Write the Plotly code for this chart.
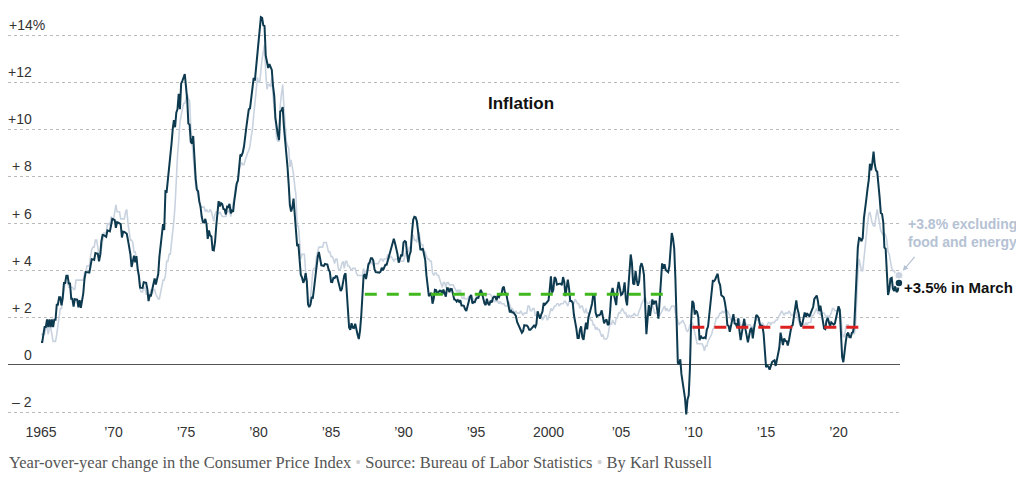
import pandas as pd
import plotly.graph_objects as go

# Verbraucherpreisindex, Veränderung zum Vorjahresmonat in %, Jan 1965 - Mär 2024
cpi_all = [
    0.97, 0.97, 1.29, 1.61, 1.61, 1.93, 1.61, 1.93, 1.61, 1.93, 1.61, 1.92,  # 1965
    1.92, 2.56, 2.56, 2.87, 2.87, 2.53, 2.85, 3.48, 3.48, 3.79, 3.79, 3.46,  # 1966
    3.46, 2.81, 2.81, 2.48, 2.79, 2.78, 2.77, 2.45, 2.75, 2.43, 2.74, 3.04,  # 1967
    3.65, 3.95, 3.94, 3.93, 3.92, 4.20, 4.49, 4.48, 4.46, 4.75, 4.73, 4.72,  # 1968
    4.40, 4.68, 5.25, 5.52, 5.51, 5.48, 5.44, 5.71, 5.70, 5.67, 5.93, 6.20,  # 1969
    6.18, 6.15, 5.82, 6.06, 6.04, 6.01, 5.98, 5.41, 5.66, 5.65, 5.60, 5.57,  # 1970
    5.29, 5.00, 4.71, 4.16, 4.40, 4.64, 4.36, 4.62, 4.08, 3.80, 3.28, 3.27,  # 1971
    3.27, 3.51, 3.50, 3.49, 3.23, 2.71, 2.95, 2.94, 3.19, 3.42, 3.67, 3.41,  # 1972
    3.65, 3.87, 4.59, 5.06, 5.53, 5.98, 5.73, 7.38, 7.36, 7.80, 8.25, 8.71,  # 1973
    9.39, 10.02, 10.39, 10.09, 10.71, 10.86, 11.51, 10.86, 11.95, 12.06, 12.20, 12.34,  # 1974
    11.80, 11.23, 10.25, 10.21, 9.47, 9.39, 9.72, 8.60, 7.91, 7.44, 7.38, 6.94,  # 1975
    6.72, 6.29, 6.07, 6.05, 6.20, 5.97, 5.35, 5.71, 5.49, 5.46, 4.88, 4.86,  # 1976
    5.22, 5.91, 6.44, 6.95, 6.73, 6.87, 6.83, 6.62, 6.60, 6.39, 6.72, 6.70,  # 1977
    6.84, 6.43, 6.55, 6.50, 6.97, 7.41, 7.70, 7.84, 8.31, 8.93, 8.89, 9.02,  # 1978
    9.28, 9.86, 10.09, 10.49, 10.85, 10.89, 11.26, 11.82, 12.18, 12.07, 12.61, 13.29,  # 1979
    13.91, 14.18, 14.76, 14.73, 14.41, 14.38, 13.13, 12.87, 12.60, 12.77, 12.65, 12.52,  # 1980
    11.83, 11.41, 10.49, 10.00, 9.78, 9.55, 10.76, 10.80, 10.95, 10.14, 9.59, 8.92,  # 1981
    8.39, 7.62, 6.78, 6.51, 6.68, 7.06, 6.44, 5.85, 5.04, 5.14, 4.59, 3.83,  # 1982
    3.71, 3.49, 3.60, 3.90, 3.55, 2.58, 2.46, 2.56, 2.86, 2.85, 3.27, 3.79,  # 1983
    4.19, 4.60, 4.80, 4.56, 4.23, 4.22, 4.20, 4.29, 4.27, 4.26, 4.05, 3.95,  # 1984
    3.53, 3.52, 3.70, 3.69, 3.77, 3.76, 3.55, 3.35, 3.14, 3.23, 3.51, 3.80,  # 1985
    3.89, 3.11, 2.26, 1.59, 1.49, 1.77, 1.58, 1.57, 1.75, 1.47, 1.28, 1.10,  # 1986
    1.46, 2.10, 3.03, 3.78, 3.86, 3.65, 3.93, 4.28, 4.36, 4.53, 4.53, 4.43,  # 1987
    4.05, 3.94, 3.93, 3.93, 3.92, 3.96, 4.13, 4.02, 4.17, 4.25, 4.25, 4.42,  # 1988
    4.67, 4.83, 4.98, 5.11, 5.36, 5.17, 4.98, 4.71, 4.34, 4.49, 4.66, 4.65,  # 1989
    5.20, 5.26, 5.23, 4.71, 4.36, 4.67, 4.82, 5.62, 6.16, 6.29, 6.27, 6.11,  # 1990
    5.65, 5.31, 4.90, 4.89, 4.95, 4.70, 4.45, 3.80, 3.39, 2.92, 2.99, 3.06,  # 1991
    2.60, 2.82, 3.19, 3.18, 3.02, 3.09, 3.16, 3.15, 2.99, 3.20, 3.05, 2.90,  # 1992
    3.26, 3.25, 3.09, 3.23, 3.22, 3.00, 2.78, 2.77, 2.69, 2.75, 2.68, 2.75,  # 1993
    2.52, 2.52, 2.51, 2.36, 2.29, 2.49, 2.77, 2.90, 2.96, 2.61, 2.67, 2.67,  # 1994
    2.80, 2.86, 2.85, 3.05, 3.19, 3.04, 2.76, 2.62, 2.54, 2.81, 2.61, 2.54,  # 1995
    2.73, 2.65, 2.84, 2.90, 2.89, 2.75, 2.95, 2.88, 3.00, 2.99, 3.26, 3.32,  # 1996
    3.04, 3.03, 2.76, 2.50, 2.23, 2.30, 2.23, 2.23, 2.15, 2.08, 1.83, 1.70,  # 1997
    1.57, 1.44, 1.37, 1.44, 1.69, 1.68, 1.68, 1.62, 1.49, 1.49, 1.55, 1.61,  # 1998
    1.67, 1.61, 1.73, 2.28, 2.09, 1.96, 2.14, 2.26, 2.63, 2.56, 2.62, 2.68,  # 1999
    2.74, 3.22, 3.76, 3.07, 3.19, 3.73, 3.66, 3.41, 3.45, 3.45, 3.45, 3.39,  # 2000
    3.73, 3.53, 2.92, 3.27, 3.62, 3.25, 2.72, 2.72, 2.65, 2.13, 1.90, 1.55,  # 2001
    1.14, 1.14, 1.48, 1.64, 1.18, 1.07, 1.46, 1.80, 1.51, 2.03, 2.20, 2.38,  # 2002
    2.60, 2.98, 3.02, 2.22, 2.06, 2.11, 2.11, 2.16, 2.32, 2.04, 1.77, 1.88,  # 2003
    1.93, 1.69, 1.74, 2.29, 3.05, 3.27, 2.99, 2.65, 2.54, 3.19, 3.52, 3.26,  # 2004
    2.97, 3.01, 3.15, 3.51, 2.80, 2.53, 3.17, 3.64, 4.69, 4.35, 3.46, 3.42,  # 2005
    3.99, 3.60, 3.36, 3.55, 4.17, 4.32, 4.15, 3.82, 2.06, 1.31, 1.97, 2.54,  # 2006
    2.08, 2.42, 2.78, 2.57, 2.69, 2.69, 2.36, 1.97, 2.76, 3.54, 4.31, 4.08,  # 2007
    4.28, 4.03, 3.98, 3.94, 4.18, 5.02, 5.60, 5.37, 4.94, 3.66, 1.07, 0.09,  # 2008
    0.03, 0.24, -0.38, -0.74, -1.28, -1.43, -2.10, -1.48, -1.29, -0.18, 1.84, 2.72,  # 2009
    2.63, 2.14, 2.31, 2.24, 2.02, 1.05, 1.24, 1.15, 1.14, 1.17, 1.14, 1.50,  # 2010
    1.63, 2.11, 2.68, 3.16, 3.57, 3.56, 3.63, 3.77, 3.87, 3.53, 3.39, 2.96,  # 2011
    2.93, 2.87, 2.65, 2.30, 1.70, 1.66, 1.41, 1.69, 1.99, 2.16, 1.76, 1.74,  # 2012
    1.59, 1.98, 1.47, 1.06, 1.36, 1.75, 1.96, 1.52, 1.18, 0.96, 1.24, 1.50,  # 2013
    1.58, 1.13, 1.51, 1.95, 2.13, 2.07, 1.99, 1.70, 1.66, 1.66, 1.32, 0.76,  # 2014
    -0.09, -0.03, -0.07, -0.20, -0.04, 0.12, 0.17, 0.20, -0.04, 0.17, 0.50, 0.73,  # 2015
    1.37, 1.02, 0.85, 1.13, 1.02, 1.01, 0.83, 1.06, 1.46, 1.64, 1.69, 2.07,  # 2016
    2.50, 2.74, 2.38, 2.20, 1.87, 1.63, 1.73, 1.94, 2.23, 2.04, 2.20, 2.11,  # 2017
    2.07, 2.21, 2.36, 2.46, 2.80, 2.87, 2.95, 2.70, 2.28, 2.52, 2.18, 1.91,  # 2018
    1.55, 1.52, 1.86, 2.00, 1.79, 1.65, 1.81, 1.75, 1.71, 1.76, 2.05, 2.29,  # 2019
    2.49, 2.33, 1.54, 0.33, 0.12, 0.65, 0.99, 1.31, 1.37, 1.18, 1.17, 1.36,  # 2020
    1.40, 1.68, 2.62, 4.16, 4.99, 5.39, 5.37, 5.25, 5.39, 6.22, 6.81, 7.04,  # 2021
    7.48, 7.87, 8.54, 8.26, 8.58, 9.06, 8.52, 8.26, 8.20, 7.75, 7.11, 6.45,  # 2022
    6.41, 6.04, 4.98, 4.93, 4.05, 2.97, 3.18, 3.67, 3.70, 3.24, 3.14, 3.35,  # 2023
    3.09, 3.15, 3.48,  # 2024
]

# Kerninflation (ohne Nahrung und Energie)
cpi_core = [
    1.3, 1.3, 1.3, 1.3, 1.6, 1.6, 1.3, 1.6, 1.6, 1.3, 1.0, 1.0,  # 1965
    1.0, 1.3, 1.6, 2.0, 2.4, 2.4, 2.8, 3.2, 3.5, 3.5, 3.5, 3.3,  # 1966
    3.3, 3.3, 3.3, 3.2, 3.2, 3.6, 3.6, 3.6, 3.6, 3.6, 3.6, 3.6,  # 1967
    3.9, 3.9, 4.2, 4.2, 4.2, 4.6, 4.9, 5.0, 5.0, 5.3, 5.3, 5.0,  # 1968
    4.6, 4.6, 5.0, 5.3, 5.6, 5.6, 5.6, 6.0, 6.0, 5.9, 6.3, 6.2,  # 1969
    6.2, 6.5, 6.8, 6.5, 6.5, 6.5, 6.2, 6.2, 6.2, 6.2, 6.5, 6.6,  # 1970
    6.0, 5.6, 5.3, 5.3, 5.2, 4.8, 4.8, 4.5, 4.1, 3.5, 3.2, 3.1,  # 1971
    3.1, 3.3, 3.3, 3.0, 3.0, 3.0, 3.0, 3.2, 3.0, 3.2, 3.2, 3.0,  # 1972
    2.9, 2.8, 2.8, 3.1, 3.4, 3.6, 3.6, 3.8, 4.4, 4.4, 4.7, 4.7,  # 1973
    5.2, 5.6, 6.1, 6.8, 8.2, 8.9, 9.5, 10.3, 10.6, 10.9, 11.1, 11.1,  # 1974
    11.3, 11.5, 11.3, 11.2, 10.1, 9.4, 8.8, 8.0, 7.6, 7.4, 7.2, 7.0,  # 1975
    6.7, 6.7, 6.7, 6.7, 6.5, 6.6, 6.5, 6.5, 6.6, 6.5, 6.3, 6.1,  # 1976
    6.4, 6.5, 6.5, 6.4, 6.5, 6.4, 6.3, 6.3, 6.3, 6.3, 6.5, 6.5,  # 1977
    6.6, 6.3, 6.6, 6.8, 7.1, 7.6, 7.7, 7.8, 8.3, 8.5, 8.6, 8.5,  # 1978
    8.5, 8.7, 8.9, 9.0, 9.1, 9.3, 9.7, 10.0, 10.6, 11.0, 11.6, 12.2,  # 1979
    12.0, 12.0, 12.6, 13.0, 13.3, 13.6, 12.4, 11.7, 11.9, 11.9, 11.8, 12.2,  # 1980
    11.4, 11.0, 10.4, 9.6, 9.5, 9.5, 11.0, 11.5, 11.9, 11.0, 10.1, 9.5,  # 1981
    9.3, 9.2, 8.4, 8.7, 8.4, 8.1, 7.6, 7.2, 5.9, 5.9, 5.3, 4.5,  # 1982
    4.7, 4.7, 4.7, 4.0, 3.6, 2.9, 2.6, 2.8, 3.4, 4.0, 4.1, 4.1,  # 1983
    4.6, 4.9, 5.0, 5.0, 5.0, 5.0, 5.2, 5.2, 5.2, 5.0, 4.8, 4.8,  # 1984
    4.6, 4.6, 4.5, 4.3, 4.5, 4.5, 4.1, 4.0, 4.1, 4.3, 4.4, 4.1,  # 1985
    4.4, 4.4, 4.2, 4.2, 4.1, 4.0, 4.1, 4.1, 4.1, 3.9, 3.8, 3.8,  # 1986
    3.8, 3.8, 3.8, 4.1, 3.9, 4.0, 4.0, 4.2, 4.3, 4.3, 4.4, 4.2,  # 1987
    4.3, 4.3, 4.3, 4.3, 4.4, 4.5, 4.5, 4.4, 4.5, 4.5, 4.5, 4.7,  # 1988
    4.5, 4.6, 4.6, 4.5, 4.4, 4.5, 4.5, 4.5, 4.4, 4.4, 4.4, 4.4,  # 1989
    4.4, 4.6, 4.8, 4.8, 4.8, 5.0, 5.0, 5.5, 5.5, 5.3, 5.3, 5.2,  # 1990
    5.6, 5.6, 5.2, 5.1, 5.1, 4.8, 4.8, 4.6, 4.5, 4.5, 4.4, 4.4,  # 1991
    3.9, 3.8, 3.9, 3.9, 3.8, 3.8, 3.6, 3.4, 3.3, 3.5, 3.5, 3.3,  # 1992
    3.5, 3.5, 3.4, 3.4, 3.4, 3.4, 3.3, 3.2, 3.1, 3.2, 3.0, 3.2,  # 1993
    2.9, 2.8, 2.9, 2.8, 2.8, 2.8, 2.9, 2.9, 3.0, 2.8, 2.8, 2.6,  # 1994
    2.9, 3.0, 3.0, 3.1, 3.1, 3.1, 3.0, 3.0, 2.9, 3.0, 3.0, 3.0,  # 1995
    3.0, 2.9, 2.8, 2.7, 2.7, 2.7, 2.7, 2.6, 2.7, 2.6, 2.6, 2.6,  # 1996
    2.5, 2.5, 2.5, 2.7, 2.5, 2.4, 2.4, 2.3, 2.2, 2.3, 2.2, 2.2,  # 1997
    2.2, 2.3, 2.2, 2.1, 2.2, 2.2, 2.2, 2.5, 2.5, 2.3, 2.3, 2.4,  # 1998
    2.4, 2.1, 2.1, 2.2, 2.0, 2.1, 2.1, 1.9, 2.0, 2.1, 2.1, 1.9,  # 1999
    2.0, 2.2, 2.4, 2.3, 2.4, 2.5, 2.5, 2.6, 2.6, 2.5, 2.6, 2.6,  # 2000
    2.6, 2.7, 2.7, 2.6, 2.5, 2.7, 2.7, 2.7, 2.6, 2.6, 2.8, 2.7,  # 2001
    2.6, 2.6, 2.4, 2.5, 2.5, 2.3, 2.2, 2.4, 2.2, 2.2, 2.0, 1.9,  # 2002
    1.9, 1.7, 1.7, 1.5, 1.6, 1.5, 1.5, 1.3, 1.2, 1.3, 1.1, 1.1,  # 2003
    1.1, 1.2, 1.6, 1.8, 1.7, 1.9, 1.8, 1.7, 2.0, 2.0, 2.2, 2.2,  # 2004
    2.3, 2.4, 2.3, 2.2, 2.2, 2.0, 2.1, 2.1, 2.0, 2.1, 2.1, 2.2,  # 2005
    2.1, 2.1, 2.1, 2.3, 2.4, 2.6, 2.7, 2.8, 2.9, 2.7, 2.6, 2.6,  # 2006
    2.7, 2.7, 2.5, 2.3, 2.2, 2.2, 2.2, 2.1, 2.1, 2.2, 2.3, 2.4,  # 2007
    2.5, 2.3, 2.4, 2.3, 2.3, 2.4, 2.5, 2.5, 2.5, 2.2, 2.0, 1.8,  # 2008
    1.7, 1.8, 1.8, 1.9, 1.8, 1.7, 1.5, 1.4, 1.5, 1.7, 1.7, 1.8,  # 2009
    1.6, 1.3, 1.1, 0.9, 0.9, 0.9, 0.9, 0.9, 0.8, 0.6, 0.8, 0.8,  # 2010
    1.0, 1.1, 1.2, 1.3, 1.5, 1.6, 1.8, 2.0, 2.0, 2.1, 2.2, 2.2,  # 2011
    2.3, 2.2, 2.3, 2.3, 2.3, 2.2, 2.1, 1.9, 2.0, 2.0, 1.9, 1.9,  # 2012
    1.9, 2.0, 1.9, 1.7, 1.7, 1.6, 1.7, 1.8, 1.7, 1.7, 1.7, 1.7,  # 2013
    1.6, 1.6, 1.7, 1.8, 2.0, 1.9, 1.9, 1.7, 1.7, 1.8, 1.7, 1.6,  # 2014
    1.6, 1.7, 1.8, 1.8, 1.7, 1.8, 1.8, 1.8, 1.9, 1.9, 2.0, 2.1,  # 2015
    2.2, 2.3, 2.2, 2.1, 2.2, 2.2, 2.2, 2.3, 2.2, 2.1, 2.1, 2.2,  # 2016
    2.3, 2.2, 2.0, 1.9, 1.7, 1.7, 1.7, 1.7, 1.7, 1.8, 1.7, 1.8,  # 2017
    1.8, 1.8, 2.1, 2.1, 2.2, 2.3, 2.4, 2.2, 2.2, 2.1, 2.2, 2.2,  # 2018
    2.2, 2.1, 2.0, 2.1, 2.0, 2.1, 2.2, 2.4, 2.4, 2.3, 2.3, 2.3,  # 2019
    2.3, 2.4, 2.1, 1.4, 1.2, 1.2, 1.6, 1.7, 1.7, 1.6, 1.6, 1.6,  # 2020
    1.4, 1.3, 1.6, 3.0, 3.8, 4.5, 4.3, 4.0, 4.0, 4.6, 4.9, 5.5,  # 2021
    6.0, 6.4, 6.5, 6.2, 6.0, 5.9, 5.9, 6.3, 6.6, 6.3, 6.0, 5.7,  # 2022
    5.6, 5.5, 5.6, 5.5, 5.3, 4.8, 4.7, 4.3, 4.1, 4.0, 4.0, 3.9,  # 2023
    3.9, 3.8, 3.8,  # 2024
]

# Durchschnitt der Perioden (gestrichelte Linien)
avg_starts = ["1987-05-01", "2009-12-01"]
avg_ends = ["2008-04-01", "2021-08-01"]
avg_values = [3.0, 1.6]

# Achsenbeschriftungen
x_tick_years = [1965, 1970, 1975, 1980, 1985, 1990, 1995, 2000, 2005, 2010, 2015, 2020]
x_tick_text = ["1965", "’70", "’75", "’80", "’85", "’90", "’95", "2000", "’05", "’10", "’15", "’20"]
y_tick_vals = [14, 12, 10, 8, 6, 4, 2, 0, -2]
y_tick_text = ["+14%", "+12", "+10", "+ 8", "+ 6", "+ 4", "+ 2", "0", "– 2"]

months = pd.date_range("1965-01-01", periods=len(cpi_all), freq="MS")

dark = "#0e3a50"
light = "#c9d3df"
avg_colors = ["#41b81e", "#dc2220"]
font = "Liberation Sans"

fig = go.Figure()

fig.add_trace(go.Scatter(
    x=months, y=cpi_core, mode="lines",
    line=dict(color=light, width=1.6), hoverinfo="skip"
))
fig.add_trace(go.Scatter(
    x=months, y=cpi_all, mode="lines",
    line=dict(color=dark, width=2), hoverinfo="skip"
))

for start, end, val, col in zip(avg_starts, avg_ends, avg_values, avg_colors):
    fig.add_trace(go.Scatter(
        x=[start, end], y=[val, val], mode="lines",
        line=dict(color=col, width=3, dash="12px,10px"), hoverinfo="skip"
    ))

# Endpunkte
fig.add_trace(go.Scatter(
    x=[months[-1]], y=[cpi_core[-1]], mode="markers",
    marker=dict(color=light, size=8, line=dict(color="white", width=1)),
    cliponaxis=False, hoverinfo="skip"
))
fig.add_trace(go.Scatter(
    x=[months[-1]], y=[cpi_all[-1]], mode="markers",
    marker=dict(color=dark, size=8, line=dict(color="white", width=1.5)),
    cliponaxis=False, hoverinfo="skip"
))

annotations = []
for val, txt in zip(y_tick_vals, y_tick_text):
    if txt.endswith("%"):
        annotations.append(dict(x=0, xanchor="left", xshift=-1, xref="paper", y=val, yref="y",
                                yanchor="middle", yshift=10, text=txt, showarrow=False,
                                font=dict(family=font, size=14, color="#333")))
    else:
        annotations.append(dict(x=0.0247, xanchor="right", xshift=4, xref="paper", y=val, yref="y",
                                yanchor="middle", yshift=10, text=txt, showarrow=False,
                                font=dict(family=font, size=14, color="#333")))

annotations += [
    dict(x=0.575, y=0.777, xref="paper", yref="paper", xanchor="center", yanchor="middle",
         text="<b>Inflation</b>", showarrow=False,
         font=dict(family=font, size=17, color="#111")),
    dict(x=1.0065, y=0.46, xref="paper", yref="paper", xanchor="left", yanchor="middle",
         align="left", text="<b>+3.8% excluding<br>food and energy</b>", showarrow=False,
         font=dict(family=font, size=14, color="#b5c2d4")),
    dict(x=1.002, y=0.329, xref="paper", yref="paper", xanchor="left", yanchor="middle",
         text="<b>+3.5% in March</b>", showarrow=False,
         font=dict(family=font, size=15, color="#111")),
    dict(x=months[-1], y=cpi_core[-1], xref="x", yref="y", text="", showarrow=True,
         ax=17, ay=-20, standoff=6, arrowhead=2, arrowsize=0.9, arrowwidth=1.2,
         arrowcolor="#b5c2d4"),
    dict(x=0, y=-0.0976, xref="paper", yref="paper", xanchor="left", yanchor="middle",
         xshift=-1, showarrow=False,
         text="Year-over-year change in the Consumer Price Index "
              "<span style='color:#d0d0d0'>•</span> Source: Bureau of Labor Statistics "
              "<span style='color:#d0d0d0'>•</span> By Karl Russell",
         font=dict(family="Liberation Serif", size=16.5, color="#555")),
]

# Seite hat 8px Rand, daher 1016x470
fig.update_layout(
    width=1016,
    height=470,
    paper_bgcolor="white",
    plot_bgcolor="white",
    showlegend=False,
    margin=dict(l=0, r=124, t=4, b=56),
    xaxis=dict(
        range=["1962-09-22", "2024-03-28"],
        tickvals=[f"{y}-01-01" for y in x_tick_years],
        ticktext=x_tick_text,
        showgrid=False, showline=False, zeroline=False, ticks="",
        tickfont=dict(family=font, size=14, color="#333"),
    ),
    yaxis=dict(
        range=[-2.42, 14.98],
        tickvals=y_tick_vals,
        showticklabels=False,
        showgrid=True, gridcolor="#bbbbbb", griddash="dot", gridwidth=1,
        zeroline=True, zerolinecolor="#555555", zerolinewidth=1.2,
        ticks="",
    ),
    annotations=annotations,
)

fig.write_html("out.html")
